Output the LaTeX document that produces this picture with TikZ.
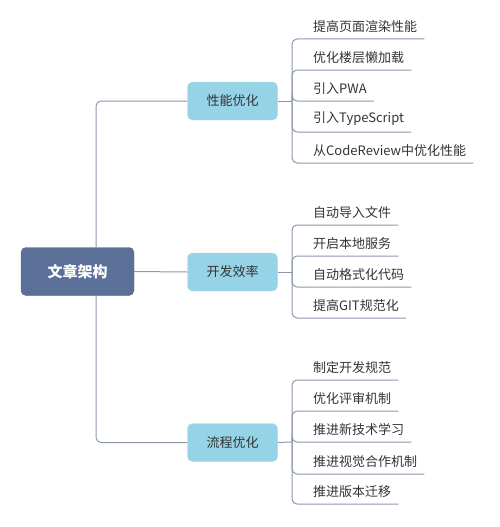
\documentclass[tikz,border=0pt]{standalone}
\usepackage{fontspec}
\setmainfont{Noto Sans CJK SC}
\usepackage{xcolor}
\usepackage{tikz}
\usetikzlibrary{positioning, calc}
\definecolor{rootblue}{HTML}{5A7099}
\definecolor{rootedge}{HTML}{4A5F86}
\definecolor{topicblue}{HTML}{96D3E6}
\definecolor{topicedge}{HTML}{A8DCEC}
\definecolor{linegray}{HTML}{8D97AD}
\definecolor{textgray}{HTML}{333333}

\begin{document}
\begin{tikzpicture}[x=1pt, y=-1pt,
    root/.style={draw=rootedge, fill=rootblue, rounded corners=5pt, minimum width=113pt,
      minimum height=48pt, text=white, font=\fontsize{15}{18}\selectfont\bfseries},
    topic/.style={draw=topicedge, fill=topicblue, rounded corners=5pt, minimum width=90pt,
      minimum height=38pt, text=textgray, font=\fontsize{13}{16}\selectfont},
    leaf/.style={anchor=south west, inner xsep=7pt, inner ysep=6pt, text=textgray,
      font=\fontsize{13}{16}\selectfont},
    branch/.style={draw=linegray, line width=1pt, rounded corners=5pt}]
      \useasboundingbox (0,0) rectangle (500,527);

      \node[root] at (77.5,271.5) (root) {文章架构};

      \node[topic] at (232.5,101) (t1) {性能优化};
      \node[topic] at (232.5,272) (t2) {开发效率};
      \node[topic] at (232.5,442.5) (t3) {流程优化};

      \coordinate (h1) at (292,101);
      \coordinate (h2) at (292,272);
      \coordinate (h3) at (292,442);

      % trunk
      \draw[branch] ([xshift=18.5pt]root.north) |- (t1.west);
      \draw[branch] ([xshift=18.5pt]root.south) |- (t3.west);
      \draw[branch] (root.east) -- (t2.west);

      \draw[branch] (t1.east) -- (h1);
      \draw[branch] (t2.east) -- (h2);
      \draw[branch] (t3.east) -- (h3);

      % leaves
      \foreach \y/\txt [count=\i] in {39/提高页面渲染性能, 70/优化楼层懒加载, 101/引入PWA,
          132/引入TypeScript, 163/从CodeReview中优化性能} {
        \node[leaf] at (306,\y) (a\i) {\txt};
        \draw[branch] (h1) |- (a\i.south east);
      }
      \foreach \y/\txt [count=\i] in {225/自动导入文件, 256/开启本地服务, 287/自动格式化代码,
          318/提高GIT规范化} {
        \node[leaf] at (306,\y) (b\i) {\txt};
        \draw[branch] (h2) |- (b\i.south east);
      }
      \foreach \y/\txt [count=\i] in {380/制定开发规范, 411/优化评审机制, 442/推进新技术学习,
          474/推进视觉合作机制, 504/推进版本迁移} {
        \node[leaf] at (306,\y) (c\i) {\txt};
        \draw[branch] (h3) |- (c\i.south east);
      }
    \end{tikzpicture}
\end{document}
